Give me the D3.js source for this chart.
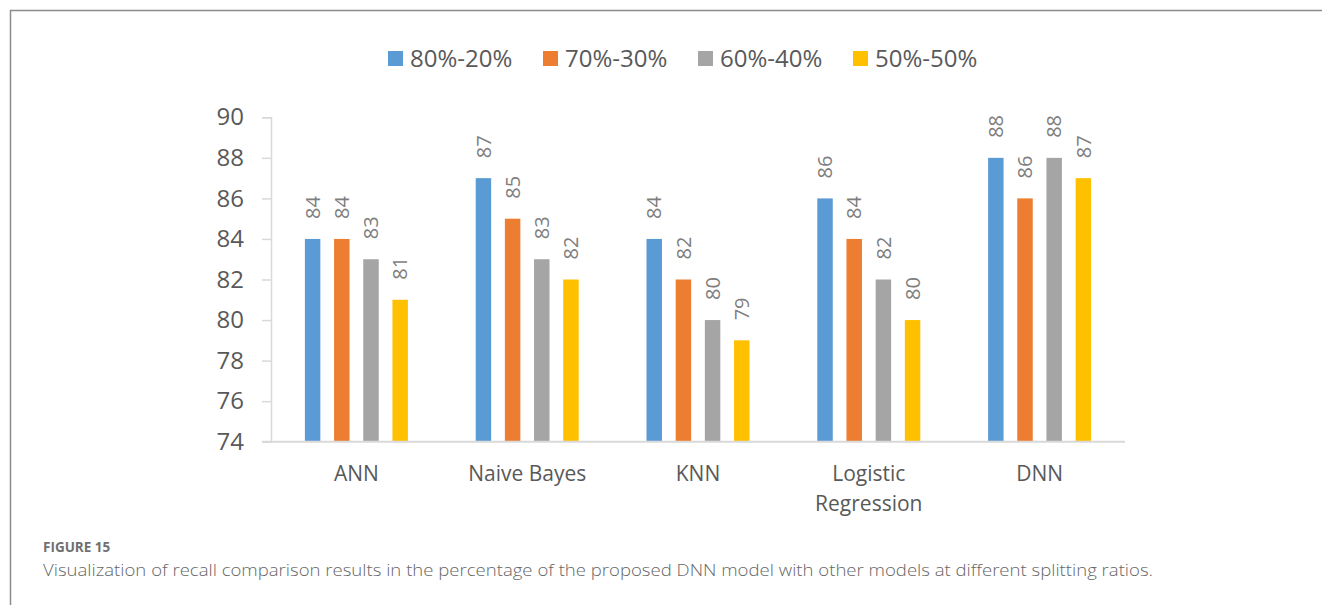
<!DOCTYPE html>
<html>
<head>
<meta charset="utf-8">
<script src="https://cdn.jsdelivr.net/npm/d3@7"></script>
<style>
  html, body { margin: 0; padding: 0; background: #fff; }
  svg { display: block; }
</style>
</head>
<body>
<svg id="chart" width="1322" height="605"></svg>
<script>
const categories = ["ANN", "Naive Bayes", "KNN", "Logistic Regression", "DNN"];
const seriesNames = ["80%-20%", "70%-30%", "60%-40%", "50%-50%"];
const s8020 = [84, 87, 84, 86, 88];
const s7030 = [84, 85, 82, 84, 86];
const s6040 = [83, 83, 80, 82, 88];
const s5050 = [81, 82, 79, 80, 87];
const yTicks = [74, 76, 78, 80, 82, 84, 86, 88, 90];
const colors = ["#5B9BD5", "#ED7D31", "#A5A5A5", "#FFC000"];
const captionTitle = "FIGURE 15";
const captionText = "Visualization of recall comparison results in the percentage of the proposed DNN model with other models at different splitting ratios.";

(function () {
const series = [s8020, s7030, s6040, s5050];
const svg = d3.select("#chart");
const font = "'Open Sans', 'Noto Sans', sans-serif";

// frame
svg.append("path")
  .attr("d", "M10.5,605 L10.5,10.5 L1322,10.5")
  .attr("fill", "none").attr("stroke", "#8c8c8c").attr("stroke-width", 1.5);

const pLeft = 271, pRight = 1125, pTop = 117.3, pBottom = 441.7;

const x = d3.scaleBand().domain(categories).range([pLeft, pRight]).padding(0);
const xInner = d3.scaleBand().domain(seriesNames).range([-51.5, 51.5]).paddingInner(0.47).paddingOuter(0);
const y = d3.scaleLinear().domain([74, 90]).range([pBottom, pTop]);

// y axis
const yAxis = d3.axisLeft(y).tickValues(yTicks).tickSize(9).tickPadding(18).tickFormat(d3.format("d"));
const gy = svg.append("g").attr("transform", `translate(${pLeft},0)`).call(yAxis);
gy.select(".domain").attr("stroke", "#d9d9d9").attr("stroke-width", 1.5);
gy.selectAll(".tick line").attr("stroke", "#d9d9d9").attr("stroke-width", 1.5);
gy.selectAll(".tick text").attr("fill", "#595959").attr("font-size", 24).attr("font-family", font);

// bars
const groups = svg.append("g").selectAll("g").data(categories).join("g")
  .attr("transform", d => `translate(${x(d) + x.bandwidth() / 2},0)`);

seriesNames.forEach((name, si) => {
  groups.append("rect")
    .attr("x", xInner(name))
    .attr("width", xInner.bandwidth())
    .attr("y", (d, ci) => y(series[si][ci]))
    .attr("height", (d, ci) => y(74) - y(series[si][ci]))
    .attr("fill", colors[si]);
  groups.append("text")
    .attr("transform", (d, ci) => `translate(${xInner(name) + xInner.bandwidth() / 2},${y(series[si][ci]) - 20}) rotate(-90)`)
    .attr("dy", "0.36em")
    .attr("text-anchor", "start")
    .attr("font-family", font).attr("font-size", 20)
    .attr("fill", "#7f7f7f")
    .text((d, ci) => series[si][ci]);
});

// x axis
const xAxis = d3.axisBottom(x).tickSize(0).tickPadding(0).tickFormat("");
const gx = svg.append("g").attr("transform", `translate(0,${pBottom})`).call(xAxis);
gx.select(".domain").attr("stroke", "#d9d9d9").attr("stroke-width", 2).attr("d", `M${pLeft - 9},0H${pRight}`);

const xl = svg.append("g").selectAll("text").data(categories).join("text")
  .attr("x", d => x(d) + x.bandwidth() / 2)
  .attr("y", 481)
  .attr("text-anchor", "middle")
  .attr("font-family", font).attr("font-size", 21).attr("fill", "#595959");
xl.each(function(d) {
  const words = d === "Logistic Regression" ? ["Logistic", "Regression"] : [d];
  const t = d3.select(this);
  words.forEach((w, i) => {
    t.append("tspan").attr("x", x(d) + x.bandwidth() / 2).attr("dy", i === 0 ? 0 : 30).text(w);
  });
});

// legend
const legend = svg.append("g").selectAll("g").data(seriesNames).join("g")
  .attr("transform", (d, i) => `translate(${388 + i * 155},0)`);
legend.append("rect").attr("x", 0).attr("y", 51).attr("width", 15).attr("height", 15)
  .attr("fill", (d, i) => colors[i]);
legend.append("text").attr("x", 22).attr("y", 66.5)
  .attr("font-family", font).attr("font-size", 24).attr("fill", "#595959")
  .text(d => d);

// caption
svg.append("text").attr("x", 43).attr("y", 552)
  .attr("font-family", font).attr("font-size", 13.5).attr("font-weight", 700)
  .attr("fill", "#707070").text(captionTitle);
svg.append("text").attr("x", 43).attr("y", 576)
  .attr("font-family", font).attr("font-size", 17).attr("font-weight", 300)
  .attr("fill", "#666666")
  .attr("textLength", 1110).attr("lengthAdjust", "spacingAndGlyphs")
  .text(captionText);
})();
</script>
</body>
</html>
